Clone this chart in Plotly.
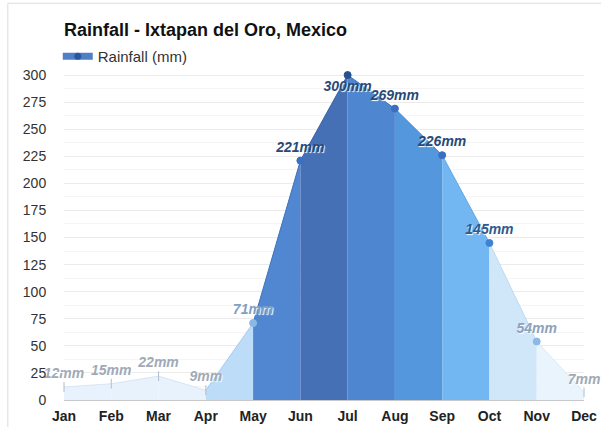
import plotly.graph_objects as go

# Data
months = ["Jan", "Feb", "Mar", "Apr", "May", "Jun", "Jul", "Aug", "Sep", "Oct", "Nov", "Dec"]
rainfall = [12, 15, 22, 9, 71, 221, 300, 269, 226, 145, 54, 7]
labels = [f"{v}mm" for v in rainfall]

# segment fill colours (between month i and i+1)
seg_colors = ["#e8f2fc", "#e8f2fc", "#e8f2fc", "#bcdcf8", "#5187d0", "#4670b6",
              "#4e86d0", "#5597dc", "#73b7f2", "#d0e6f9", "#eaf4fd"]
seg_lines = ["#d6e6f5", "#d6e6f5", "#d6e6f5", "#a7cdf1", "#3d73be", "#3a62a6",
             "#3d74bf", "#4487cf", "#5ea6e6", "#bcd9f3", "#d8e9f8"]
point_colors = ["#b0bccb", "#b0bccb", "#b0bccb", "#b0bccb", "#8db8e6", "#3b6fc0",
                "#2a4f8f", "#3b6fc0", "#3b6fc0", "#3f82d4", "#8db8e6", "#b0bccb"]
point_symbols = ["line-ns-open"] * 4 + ["circle"] * 7 + ["line-ns-open"]
text_colors = ["#a0aab6", "#a0aab6", "#a0aab6", "#a0aab6", "#7f9fc4", "#284a78",
               "#284a78", "#284a78", "#284a78", "#2f5a8f", "#8fa2b8", "#a0aab6"]

fig = go.Figure()

# Coloured area segments
for i in range(len(months) - 1):
    fig.add_trace(go.Scatter(
        x=[i, i + 1],
        y=[rainfall[i], rainfall[i + 1]],
        mode="lines",
        fill="tozeroy",
        fillcolor=seg_colors[i],
        line=dict(color=seg_lines[i], width=1),
        hoverinfo="skip",
        showlegend=False,
    ))

# Points and labels
positions = ["top center"] * 12
positions[6] = "bottom center"
fig.add_trace(go.Scatter(
    x=list(range(12)),
    y=rainfall,
    mode="markers+text",
    marker=dict(size=7, color=point_colors, symbol=point_symbols,
                line=dict(color=point_colors, width=1)),
    text=labels,
    textposition=positions,
    textfont=dict(family="Arial", size=14, color=text_colors, weight="bold",
                  style="italic", shadow="1px 1px 1px white"),
    name="Rainfall (mm)",
    showlegend=False,
    cliponaxis=False,
))

# Legend entry
fig.add_trace(go.Scatter(
    x=[None], y=[None],
    mode="lines+markers",
    line=dict(color="#4f7fc4", width=7),
    marker=dict(color="#2a56a0", size=7),
    name="Rainfall (mm)",
))

fig.update_layout(
    width=601,
    height=427,
    margin=dict(l=64, r=17, t=68, b=27, autoexpand=False),
    paper_bgcolor="white",
    plot_bgcolor="white",
    title=dict(text="<b>Rainfall - Ixtapan del Oro, Mexico</b>",
               x=0, xref="paper", y=0.93, yanchor="middle",
               font=dict(family="Arial", size=18, color="#111")),
    font=dict(family="Arial", size=14, color="#333"),
    legend=dict(x=-0.012, y=1.035, xanchor="left", yanchor="middle",
                bgcolor="rgba(0,0,0,0)", font=dict(size=15, color="#333")),
    showlegend=True,
)

fig.update_xaxes(
    range=[0, 11],
    tickvals=list(range(12)),
    ticktext=[f"<b>{m}</b>" for m in months],
    tickfont=dict(size=14, color="#222"),
    showgrid=False,
    zeroline=False,
    showline=False,
    ticks="outside", ticklen=3, tickcolor="white",
)
fig.update_yaxes(
    range=[0, 306.5],
    tickvals=[0, 25, 50, 75, 100, 125, 150, 175, 200, 225, 250, 275, 300],
    tickfont=dict(size=14, color="#333"),
    showgrid=True,
    gridcolor="#ebebeb",
    minor=dict(dtick=12.5, showgrid=True, gridcolor="#f5f5f5"),
    zeroline=True, zerolinecolor="#c8c8c8", zerolinewidth=1,
    ticks="outside", ticklen=14, tickcolor="white",
)

# card border
fig.add_shape(type="rect", xref="paper", yref="paper",
              x0=-0.108, x1=1.1, y0=-0.2, y1=1.195,
              line=dict(color="#dcdcdc", width=1), layer="below")

# remove the default page margin so the figure sits at the window's corner
fig.write_html("out.html", config={"displayModeBar": False},
               post_script="document.body.style.margin='0';")
